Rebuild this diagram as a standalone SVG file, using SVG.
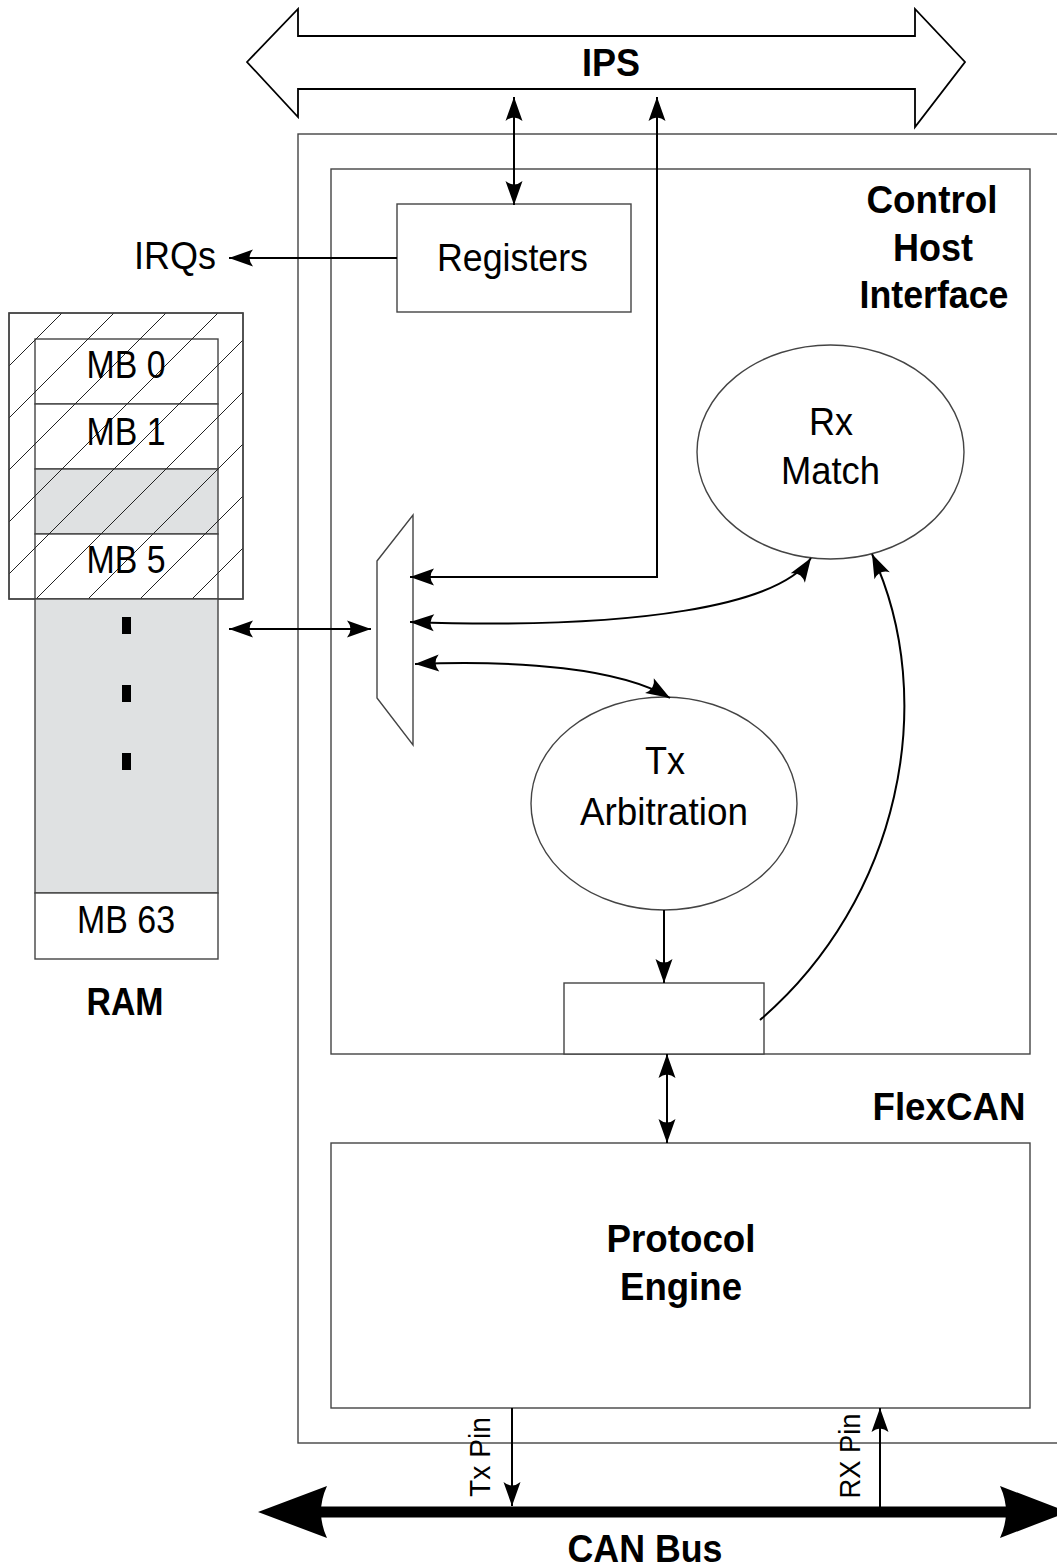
<svg xmlns="http://www.w3.org/2000/svg" width="1057" height="1568" viewBox="0 0 1057 1568">
<defs>
<style>
text{font-family:"Liberation Sans",Arial,Helvetica,sans-serif;fill:#000}
.r{font-size:38px;text-anchor:middle}
.b{font-size:39px;font-weight:bold;text-anchor:middle}
.pin{font-size:29px;text-anchor:middle}
.box{fill:#fff;stroke:#444;stroke-width:1.4}
.nf{fill:none;stroke:#444;stroke-width:1.4}
.gray{fill:#dfe1e2;stroke:#444;stroke-width:1.4}
.con{fill:none;stroke:#000;stroke-width:2}
</style>
<marker id="ah" viewBox="-25 -10 26 20" refX="0" refY="0" markerWidth="26" markerHeight="20" markerUnits="userSpaceOnUse" orient="auto-start-reverse">
<path d="M0,0 L-24,-8.5 Q-17,0 -24,8.5 Z" fill="#000"/>
</marker>
<pattern id="hatch" patternUnits="userSpaceOnUse" width="52" height="52">
<path d="M-2,13 L13,-2 M9,54 L54,9" stroke="#222" stroke-width="1" fill="none"/>
</pattern>
</defs>
<rect width="1057" height="1568" fill="#fff"/>

<g id="flexcan">
<rect x="298" y="134" width="780" height="1309" class="nf"/>
<text class="b" x="949" y="1120" textLength="153" lengthAdjust="spacingAndGlyphs">FlexCAN</text>
</g>

<g id="control-host-interface">
<rect x="331" y="169" width="699" height="885" class="box"/>
<text class="b" x="932" y="213" textLength="131" lengthAdjust="spacingAndGlyphs">Control</text>
<text class="b" x="933" y="261" textLength="80" lengthAdjust="spacingAndGlyphs">Host</text>
<text class="b" x="934" y="308" textLength="149" lengthAdjust="spacingAndGlyphs">Interface</text>
</g>

<g id="ips-bus">
<polygon points="247,62 298,9 298,36 915,36 915,9 965,62 915,127 915,89 298,89 298,117" fill="#fff" stroke="#000" stroke-width="1.8" stroke-linejoin="miter"/>
<text class="b" x="611" y="76" textLength="58" lengthAdjust="spacingAndGlyphs">IPS</text>
</g>

<g id="registers">
<rect x="397" y="204" width="234" height="108" class="box"/>
<text class="r" x="512.5" y="271" textLength="151" lengthAdjust="spacingAndGlyphs">Registers</text>
</g>

<g id="irqs">
<text class="r" x="175" y="269" textLength="82" lengthAdjust="spacingAndGlyphs">IRQs</text>
</g>

<g id="rx-match">
<ellipse cx="830.5" cy="452" rx="133.5" ry="107" class="box"/>
<text class="r" x="831" y="435" textLength="44" lengthAdjust="spacingAndGlyphs">Rx</text>
<text class="r" x="830.5" y="484" textLength="99" lengthAdjust="spacingAndGlyphs">Match</text>
</g>

<g id="tx-arbitration">
<ellipse cx="664" cy="803.5" rx="133" ry="106.5" class="box"/>
<text class="r" x="665" y="774" textLength="40" lengthAdjust="spacingAndGlyphs">Tx</text>
<text class="r" x="664" y="825" textLength="168" lengthAdjust="spacingAndGlyphs">Arbitration</text>
</g>

<g id="mux">
<polygon points="377,561 413,515 413,745 377,698" class="box"/>
</g>

<g id="buffer">
<rect x="564" y="983" width="200" height="71" class="box"/>
</g>

<g id="protocol-engine">
<rect x="331" y="1143" width="699" height="265" class="box"/>
<text class="b" x="681" y="1252" textLength="149" lengthAdjust="spacingAndGlyphs">Protocol</text>
<text class="b" x="681" y="1300" textLength="122" lengthAdjust="spacingAndGlyphs">Engine</text>
</g>

<g id="ram">
<rect x="9" y="313" width="234" height="286" fill="#fff" stroke="#444" stroke-width="1.4"/>
<rect x="35" y="339" width="183" height="65" class="box"/>
<rect x="35" y="404" width="183" height="65" class="box"/>
<rect x="35" y="469" width="183" height="65" class="gray"/>
<rect x="35" y="534" width="183" height="65" class="box"/>
<rect x="9" y="313" width="234" height="286" fill="url(#hatch)" stroke="none"/>
<rect x="9" y="313" width="234" height="286" class="nf"/>
<rect x="35" y="599" width="183" height="294" class="gray"/>
<rect x="35" y="893" width="183" height="66" class="box"/>
<rect x="122" y="617" width="9" height="17" fill="#000"/>
<rect x="122" y="685" width="9" height="17" fill="#000"/>
<rect x="122" y="753" width="9" height="17" fill="#000"/>
<text class="r" x="126" y="378" textLength="79" lengthAdjust="spacingAndGlyphs">MB 0</text>
<text class="r" x="126" y="445" textLength="79" lengthAdjust="spacingAndGlyphs">MB 1</text>
<text class="r" x="126" y="573" textLength="79" lengthAdjust="spacingAndGlyphs">MB 5</text>
<text class="r" x="126" y="933" textLength="98" lengthAdjust="spacingAndGlyphs">MB 63</text>
<text class="b" x="125" y="1015" textLength="77" lengthAdjust="spacingAndGlyphs">RAM</text>
</g>

<g id="can-bus">
<line x1="315" y1="1512" x2="1010" y2="1512" stroke="#000" stroke-width="11"/>
<path d="M258,1512 L327,1486 Q315,1512 327,1538 Z" fill="#000"/>
<path d="M1068,1512 L1000,1486 Q1012,1512 1000,1538 Z" fill="#000"/>
<text class="b" x="645" y="1562" textLength="155" lengthAdjust="spacingAndGlyphs">CAN Bus</text>
</g>

<g id="pin-labels">
<text class="pin" transform="translate(490,1457) rotate(-90)" textLength="80" lengthAdjust="spacingAndGlyphs">Tx Pin</text>
<text class="pin" transform="translate(860,1456) rotate(-90)" textLength="85" lengthAdjust="spacingAndGlyphs">RX Pin</text>
</g>

<g id="connectors">
<path class="con" d="M514,97 V205" marker-start="url(#ah)" marker-end="url(#ah)"/>
<path class="con" d="M410,577 H657 V97" marker-start="url(#ah)" marker-end="url(#ah)"/>
<path class="con" d="M397,258 H229" marker-end="url(#ah)"/>
<path class="con" d="M229,629 H371" marker-start="url(#ah)" marker-end="url(#ah)"/>
<path class="con" d="M410,622 C640,630 780,605 811,558" marker-start="url(#ah)" marker-end="url(#ah)"/>
<path class="con" d="M415,664 C520,660 620,668 670,698" marker-start="url(#ah)" marker-end="url(#ah)"/>
<path class="con" d="M664,910 V983" marker-end="url(#ah)"/>
<path class="con" d="M760,1020 C900,900 940,700 872,554" marker-end="url(#ah)"/>
<path class="con" d="M667,1054 V1143" marker-start="url(#ah)" marker-end="url(#ah)"/>
<path class="con" d="M512,1408 V1506" marker-end="url(#ah)"/>
<path class="con" d="M880,1507 V1408" marker-end="url(#ah)"/>
</g>
</svg>
